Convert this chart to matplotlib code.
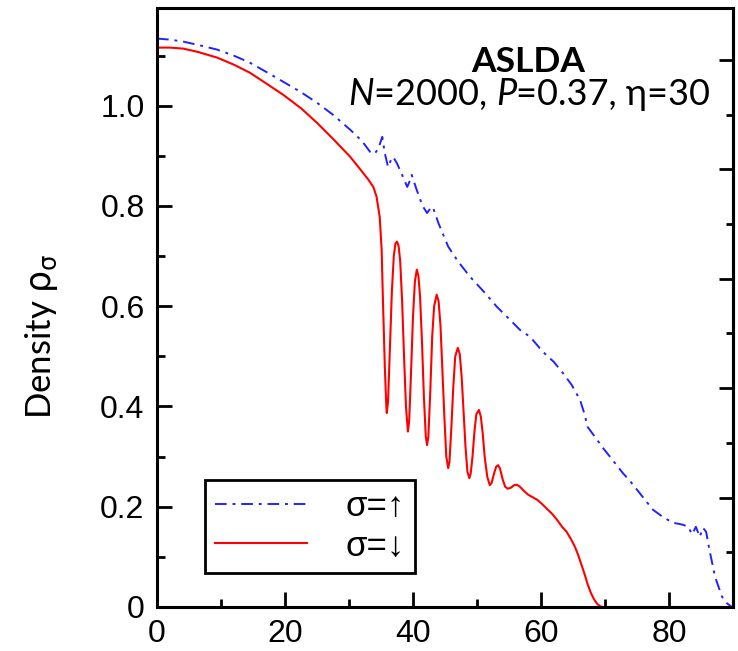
import matplotlib
matplotlib.use("Agg")
import matplotlib.pyplot as plt
from matplotlib.ticker import MultipleLocator, FixedLocator, NullFormatter

plt.rcParams['mathtext.fontset'] = 'custom'
plt.rcParams['mathtext.it'] = 'DejaVu Sans'
plt.rcParams['mathtext.rm'] = 'DejaVu Sans'

# ---- data ----
x_up = [0.0, 2.0, 4.1, 6.5, 9.4, 12.0, 14.5, 17.0, 19.7, 22.5, 25.0, 27.5, 30.2, 32.0, 33.3, 34.0,
        34.6, 35.2, 35.6, 36.1, 36.5, 36.9, 37.5, 38.3, 39.1, 39.5, 39.8, 40.5, 41.5, 42.2, 42.7,
        43.1, 44.0, 45.5, 47.0, 48.9, 51.0, 53.1, 55.0, 56.7, 58.3, 60.3, 62.0, 63.4, 64.8, 66.1,
        66.8, 67.3, 68.5, 69.7, 71.2, 72.8, 74.0, 75.0, 76.3, 77.5, 79.0, 80.6, 81.5, 82.2, 83.0,
        83.6, 84.2, 84.8, 85.3, 85.8, 86.3, 87.2, 88.3, 89.0, 89.8]
y_up = [1.134, 1.132, 1.128, 1.121, 1.112, 1.100, 1.086, 1.068, 1.048, 1.027, 1.006, 0.982, 0.952, 0.930, 0.908, 0.904,
        0.915, 0.938, 0.905, 0.878, 0.890, 0.898, 0.885, 0.862, 0.838, 0.850, 0.862, 0.835, 0.800, 0.786, 0.795,
        0.798, 0.765, 0.719, 0.690, 0.659, 0.630, 0.599, 0.575, 0.553, 0.539, 0.509, 0.489, 0.467, 0.443, 0.413,
        0.385, 0.359, 0.338, 0.317, 0.293, 0.267, 0.250, 0.234, 0.213, 0.194, 0.180, 0.168, 0.166, 0.164, 0.160,
        0.145, 0.160, 0.140, 0.158, 0.150, 0.115, 0.060, 0.020, 0.008, 0.0]

x_dn = [0.0, 2.0, 4.1, 6.5, 9.4, 12.0, 14.5, 17.0, 19.7, 22.5, 25.0, 27.5, 30.2, 31.2, 32.2, 33.0,
        33.8, 34.3, 34.8, 35.1, 35.3, 35.6, 35.8, 35.9,
        36.1, 36.4, 36.7, 37.0, 37.25, 37.5, 37.75, 38.0, 38.3, 38.6, 38.9, 39.2,
        39.4, 39.7, 40.0, 40.3, 40.6, 40.85, 41.1, 41.4, 41.7, 42.0, 42.2,
        42.4, 42.7, 43.0, 43.3, 43.7, 44.0, 44.3, 44.6, 44.9, 45.2, 45.5,
        45.7, 46.0, 46.3, 46.6, 47.0, 47.3, 47.6, 47.9, 48.2, 48.5, 48.8,
        49.0, 49.3, 49.6, 49.9, 50.3, 50.6, 50.9, 51.2, 51.6, 52.0,
        52.3, 52.7, 53.0, 53.3, 53.6, 54.0, 54.4, 54.8,
        55.3, 55.8, 56.2, 56.7, 57.3, 58.0, 58.7, 59.4, 60.2, 61.0, 61.8, 62.5, 63.3, 64.0,
        64.7, 65.3, 65.8, 66.3, 66.8, 67.3, 67.8, 68.3, 68.8, 69.3, 69.7, 90.0]
y_dn = [1.116, 1.116, 1.114, 1.107, 1.096, 1.082, 1.066, 1.045, 1.022, 0.995, 0.966, 0.934, 0.898, 0.882, 0.866, 0.853,
        0.838, 0.819, 0.778, 0.713, 0.613, 0.479, 0.410, 0.387,
        0.410, 0.520, 0.630, 0.700, 0.725, 0.729, 0.720, 0.690, 0.610, 0.500, 0.400, 0.350,
        0.370, 0.470, 0.580, 0.650, 0.673, 0.660, 0.620, 0.530, 0.420, 0.340, 0.323,
        0.340, 0.430, 0.540, 0.600, 0.623, 0.610, 0.560, 0.470, 0.380, 0.300, 0.277,
        0.290, 0.360, 0.440, 0.500, 0.517, 0.505, 0.460, 0.390, 0.320, 0.270, 0.257,
        0.265, 0.300, 0.350, 0.385, 0.393, 0.380, 0.345, 0.300, 0.260, 0.243,
        0.248, 0.268, 0.280, 0.283, 0.276, 0.255, 0.240, 0.236,
        0.238, 0.243, 0.244, 0.240, 0.232, 0.224, 0.219, 0.214, 0.205, 0.195, 0.185, 0.174, 0.160, 0.150,
        0.135, 0.120, 0.104, 0.085, 0.066, 0.045, 0.028, 0.015, 0.006, 0.001, 0.0, 0.0]

labels = ["σ=↑", "σ=↓"]
title = "ASLDA"
xticks = [0, 20, 40, 60, 80]
yticks = [0, 0.2, 0.4, 0.6, 0.8, 1.0]
yticklabels = ["0", "0.2", "0.4", "0.6", "0.8", "1.0"]

# ---- figure ----
fig = plt.figure(figsize=(7.38, 6.51), dpi=100)
ax = fig.add_axes([157/738, 44/651, 576/738, 599/651])

ax.plot(x_up, y_up, color="#2222ff", lw=1.4, dashes=[6, 3, 1.5, 3], label=labels[0])
ax.plot(x_dn, y_dn, color="#ff0000", lw=1.5, label=labels[1])

ax.set_xlim(0, 90)
ax.set_ylim(0, 1.195)

ax.xaxis.set_major_locator(FixedLocator(xticks))
ax.xaxis.set_minor_locator(FixedLocator([10, 30, 50, 70]))
ax.yaxis.set_major_locator(FixedLocator(yticks))
ax.yaxis.set_minor_locator(FixedLocator([0.1, 0.3, 0.5, 0.7, 0.9, 1.1]))
ax.set_yticklabels(yticklabels)
ax.set_xticklabels([str(v) for v in xticks])
for lab in ax.get_xticklabels() + ax.get_yticklabels():
    lab.set_fontfamily(['Liberation Sans', 'DejaVu Sans'])
    lab.set_fontsize(23)

ax.xaxis.set_tick_params(which='major', direction='in', length=11, width=2.0, color='black',
                         bottom=True, top=False, pad=9)
ax.xaxis.set_tick_params(which='minor', direction='in', length=5.5, width=2.0, color='black',
                         bottom=True, top=False)
ax.yaxis.set_tick_params(which='major', direction='in', length=11, width=2.0, color='black',
                         left=True, right=False, pad=9)
ax.yaxis.set_tick_params(which='minor', direction='in', length=5.5, width=2.0, color='black',
                         left=True, right=False)
for sp in ax.spines.values():
    sp.set_linewidth(2.2)

# right-hand ticks on their own scale, as in the reference
k = 1.095 / 1.195
sec = ax.secondary_yaxis('right', functions=(lambda v: v * k, lambda v: v / k))
sec.yaxis.set_major_locator(MultipleLocator(0.2))
sec.yaxis.set_minor_locator(MultipleLocator(0.1))
sec.yaxis.set_major_formatter(NullFormatter())
sec.tick_params(which='major', direction='in', length=10, width=2.0)
sec.tick_params(which='minor', direction='in', length=5, width=2.0)
sec.spines['right'].set_linewidth(2.2)

ax.set_ylabel(r"Density $\rho_{\sigma}$", family='Lato', fontsize=25)
ax.yaxis.set_label_coords(-0.168, 0.452)

ax.text(0.644, 0.910, title, transform=ax.transAxes, ha='center', va='center',
        family='Lato', fontweight='bold', fontsize=25.5)

fs2 = 26
t1 = ax.text(0.332, 0.828, "N", transform=ax.transAxes, ha='left', va='bottom',
             family='Lato', style='italic', fontsize=fs2)
t2 = ax.annotate("=2000, ", xy=(1, 0), xycoords=t1, ha='left', va='bottom',
                 family='Lato', fontsize=fs2)
t3 = ax.annotate("P", xy=(1, 0), xycoords=t2, ha='left', va='bottom',
                 family='Lato', style='italic', fontsize=fs2)
t4 = ax.annotate("=0.37, η=30", xy=(1, 0), xycoords=t3, ha='left', va='bottom',
                 family=['Lato', 'DejaVu Sans'], fontsize=fs2)

leg = ax.legend(loc='lower left', bbox_to_anchor=(48/576, 34/599), borderaxespad=0,
                prop=dict(family=['Liberation Sans', 'DejaVu Sans'], size=25),
                handlelength=2.65, handletextpad=1.1, labelspacing=0.18,
                fancybox=False, framealpha=1, edgecolor='black', borderpad=0.3)
leg.get_frame().set_linewidth(2.0)

fig.savefig("out.png", dpi=100)
